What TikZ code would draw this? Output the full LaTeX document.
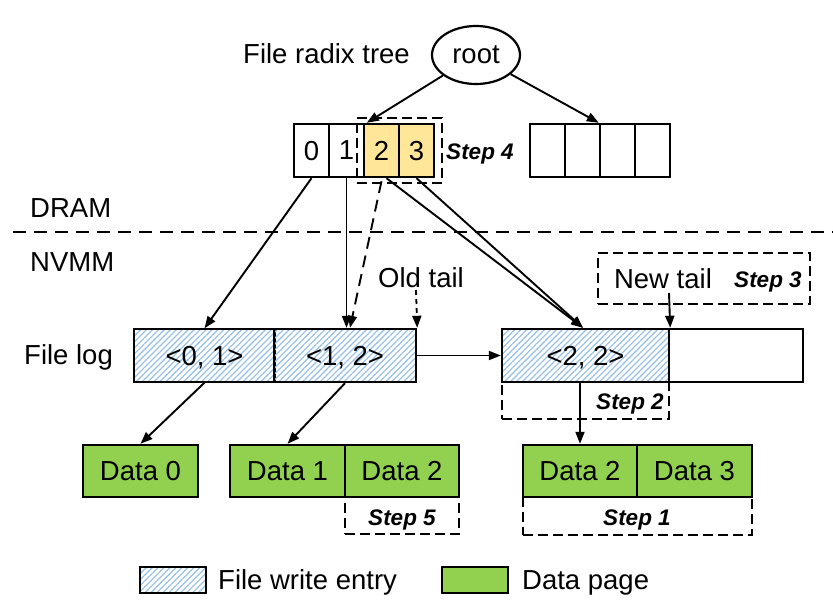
\documentclass[tikz,border=0pt]{standalone}
\usepackage{fontspec}
\setmainfont{Liberation Sans}
\usetikzlibrary{arrows.meta,shapes.geometric,patterns.meta}
\definecolor{cellyellow}{HTML}{FFE699}
\definecolor{datagreen}{HTML}{92D050}
\definecolor{hatchblue}{HTML}{9DC3E6}
\begin{document}
\begin{tikzpicture}[x=1pt,y=-1pt,
  every node/.style={font=\fontsize{27.5}{31}\selectfont, inner sep=0pt, text depth=0pt},
  box/.style={draw, line width=2.4pt, rectangle},
  cellbox/.style={box, minimum width=35pt, minimum height=53pt},
  entrybox/.style={box, minimum height=53pt, pattern={Lines[angle=45,distance=4.2pt,line width=1.3pt]}, pattern color=hatchblue},
  databox/.style={box, fill=datagreen, minimum height=52pt},
  stepbox/.style={draw, line width=2.4pt, dash pattern=on 10pt off 5pt},
  steplabel/.style={font=\fontsize{22.5}{26}\selectfont\bfseries\itshape},
  arr/.style={line width=1.9pt, -{Triangle[length=12pt,width=9pt]}},
  dasharr/.style={arr, dash pattern=on 12pt off 7pt}
]
\useasboundingbox (0,0) rectangle (833,607);

% radix tree
\node[draw, ellipse, line width=2.2pt, minimum width=88pt, minimum height=58pt] (root) at (476,55) {root};
\node[anchor=west] (frt) at (243,54) {File radix tree};

\node[cellbox] (c0) at (311.5,150.5) {0};
\node[cellbox] (c1) at (346.5,150.5) {1};
\node[cellbox, fill=cellyellow] (c2) at (381.5,150.5) {2};
\node[cellbox, fill=cellyellow] (c3) at (416.5,150.5) {3};

\node[cellbox] (r0) at (547.5,150.5) {};
\node[cellbox] (r1) at (582.5,150.5) {};
\node[cellbox] (r2) at (617.5,150.5) {};
\node[cellbox] (r3) at (652.5,150.5) {};

\node[stepbox, minimum width=85pt, minimum height=65pt] (s4) at (399.5,150.5) {};
\node[steplabel] (s4l) at (480,152) {Step 4};

\draw[arr] (root) -- ([xshift=4pt]c2.north west);
\draw[arr] (root) -- (r2.north west);

% DRAM / NVMM
\node[anchor=west] (dram) at (30,208) {DRAM};
\node[anchor=west] (nvmm) at (30,262) {NVMM};
\coordinate (dl) at (13,232);
\coordinate (dr) at (833,232);
\draw[line width=1.8pt, dash pattern=on 13pt off 8pt] (dl) -- (dr);

% file log
\node[anchor=west] (flog) at (24,355) {File log};
\node[entrybox, minimum width=141pt] (e01) at (204.5,355.5) {<0, 1>};
\node[entrybox, minimum width=142pt] (e12) at (345,355.5) {<1, 2>};
\node[entrybox, minimum width=167pt] (e22) at (585.5,355.5) {<2, 2>};
\node[box, minimum width=134pt, minimum height=53pt] (eem) at (736,355.5) {};

% data pages
\node[databox, minimum width=115pt] (d0) at (140.5,471) {Data 0};
\node[databox, minimum width=115pt] (d1) at (287.5,471) {Data 1};
\node[databox, minimum width=114pt] (d2a) at (402,471) {Data 2};
\node[databox, minimum width=114pt] (d2b) at (580,471) {Data 2};
\node[databox, minimum width=115pt] (d3) at (694.5,471) {Data 3};

% connectors from radix tree
\draw[arr] (c0.south) -- (e01.north);
\draw[arr] (c1.south) -- (c1.south |- e12.north);
\draw[dasharr] ([yshift=-3pt]c2.south) -- ([xshift=5pt]e12.north);
\draw[arr] ([xshift=5pt]c2.south) -- ([xshift=-2.5pt]e22.north);
\draw[arr] (c3.south) -- ([xshift=-2.5pt]e22.north);

% log links
\draw[arr] (e12.east) -- (e22.west);
\draw[arr] (e01.south) -- (d0.north);
\draw[arr] (e12.south) -- (d1.north);
\draw[arr] (d2b.north |- e22.south) -- (d2b.north);

% tails
\node (otl) at (421,278) {Old tail};
\coordinate (otail) at (416,290);
\draw[line width=1.8pt, dash pattern=on 5pt off 4pt, -{Triangle[length=12pt,width=9pt]}] (otail) -- (e12.north east);

\node[stepbox, minimum width=212pt, minimum height=51pt] (s3) at (704,278.5) {};
\node (ntl) at (663,279) {New tail};
\node[steplabel] (s3l) at (768,280) {Step 3};
\coordinate (ntail) at (669,293);
\draw[arr] (ntail) -- (e22.north east);

% step boxes
\node[stepbox, minimum width=167pt, minimum height=90pt] (s2) at (585.5,374) {};
\node[steplabel] (s2l) at (630,402) {Step 2};
\node[stepbox, minimum width=114pt, minimum height=89pt] (s5) at (402,489.5) {};
\node[steplabel] (s5l) at (402,518) {Step 5};
\node[stepbox, minimum width=229pt, minimum height=90pt] (s1) at (637.5,490) {};
\node[steplabel] (s1l) at (637,518) {Step 1};

% legend
\node[box, minimum width=66pt, minimum height=26pt, pattern={Lines[angle=45,distance=4.2pt,line width=1.3pt]}, pattern color=hatchblue] (lg1) at (173,580) {};
\node[anchor=west] (lt1) at (218,580) {File write entry};
\node[box, fill=datagreen, minimum width=66pt, minimum height=26pt] (lg2) at (475,580) {};
\node[anchor=west] (lt2) at (522,580) {Data page};
\end{tikzpicture}
\end{document}
